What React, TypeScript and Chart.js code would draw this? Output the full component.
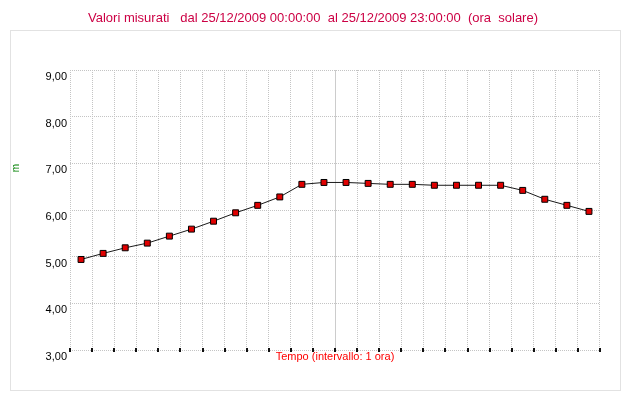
import React, { useEffect, useRef } from 'react';
import { Chart, registerables } from 'chart.js';

Chart.register(...registerables);

const hours = [
  '00:00', '01:00', '02:00', '03:00', '04:00', '05:00', '06:00', '07:00',
  '08:00', '09:00', '10:00', '11:00', '12:00', '13:00', '14:00', '15:00',
  '16:00', '17:00', '18:00', '19:00', '20:00', '21:00', '22:00', '23:00',
];
const values = [
  4.94, 5.07, 5.19, 5.29, 5.44, 5.59, 5.76, 5.94,
  6.10, 6.28, 6.55, 6.59, 6.59, 6.57, 6.55, 6.55,
  6.53, 6.53, 6.53, 6.53, 6.42, 6.23, 6.10, 5.97,
];
const yMin = 3;
const yMax = 9;
const yStep = 1;
const titleText = 'Valori misurati   dal 25/12/2009 00:00:00  al 25/12/2009 23:00:00  (ora  solare)';
const yTitle = 'm';
const xTitle = 'Tempo (intervallo: 1 ora)';

const FONT = '"Liberation Sans", Arial, sans-serif';
const DOT = '#c4c4c4';

const decor = {
  id: 'decor',
  beforeDraw(chart: any) {
    const ctx = chart.ctx;
    ctx.save();
    ctx.fillStyle = '#ffffff';
    ctx.fillRect(0, 0, chart.width, chart.height);
    ctx.strokeStyle = DOT;
    ctx.lineWidth = 1;
    ctx.setLineDash([1, 1]);
    ctx.strokeRect(10.5, 30.5, 610, 360);
    ctx.restore();
  },
  afterDraw(chart: any) {
    const ctx = chart.ctx;
    const xs = chart.scales.x;
    const area = chart.chartArea;
    ctx.save();
    // main title
    ctx.font = `13px ${FONT}`;
    ctx.fillStyle = '#cc0044';
    ctx.textAlign = 'center';
    ctx.textBaseline = 'middle';
    ctx.fillText(titleText, 313, 18);
    // x title
    ctx.font = `11px ${FONT}`;
    ctx.fillStyle = '#ff0000';
    ctx.fillText(xTitle, (area.left + area.right) / 2, 357);
    // y title
    ctx.save();
    ctx.translate(16, 168);
    ctx.rotate(-Math.PI / 2);
    ctx.font = `10px ${FONT}`;
    ctx.fillStyle = '#008000';
    ctx.fillText(yTitle, 0, 0);
    ctx.restore();
    // tick marks on the bottom axis
    const step = xs.getPixelForValue(1) - xs.getPixelForValue(0);
    ctx.fillStyle = '#111111';
    for (let i = 0; i <= hours.length; i++) {
      const x = Math.round(xs.getPixelForValue(i) - step / 2);
      ctx.fillRect(x - 1, area.bottom - 2, 2, 4);
    }
    ctx.restore();
  },
};

export default function App() {
  const ref = useRef<HTMLCanvasElement>(null);
  useEffect(() => {
    const canvas = ref.current;
    if (!canvas) return;
    const chart = new Chart(canvas, {
      type: 'line',
      data: {
        labels: hours,
        datasets: [
          {
            data: values,
            borderColor: '#1a1a1a',
            borderWidth: 1,
            pointStyle: 'rect',
            pointRadius: 4.2,
            pointBackgroundColor: '#e00000',
            pointBorderColor: '#000000',
            pointBorderWidth: 1,
            tension: 0,
          },
        ],
      },
      options: {
        responsive: false,
        animation: false,
        events: [],
        layout: { padding: { top: 70, left: 0, right: 30, bottom: 0 } },
        plugins: {
          legend: { display: false },
          title: { display: false },
          tooltip: { enabled: false },
        },
        scales: {
          x: {
            type: 'category',
            offset: true,
            ticks: { display: false },
            grid: {
              offset: true,
              drawTicks: false,
              color: (c: any) => (c.index === 12 ? '#cccccc' : DOT),
            },
            border: {
              display: false,
              dash: (c: any) => (c.index === 12 ? [] : [1, 1]),
            },
            afterFit: (s: any) => {
              s.height = 50;
            },
          },
          y: {
            min: yMin,
            max: yMax,
            ticks: {
              stepSize: yStep,
              padding: 3,
              labelOffset: 7,
              color: '#000000',
              font: { family: FONT, size: 11 },
              callback: (v: any) => Number(v).toFixed(2).replace('.', ','),
            },
            grid: { drawTicks: false, color: DOT },
            border: { display: false, dash: [1, 1] },
            afterFit: (s: any) => {
              s.width = 70;
            },
          },
        },
      },
      plugins: [decor],
    });
    return () => chart.destroy();
  }, []);
  return (
    <canvas
      ref={ref}
      width={630}
      height={400}
      style={{ position: 'fixed', left: 0, top: 0, width: 630, height: 400 }}
    />
  );
}
